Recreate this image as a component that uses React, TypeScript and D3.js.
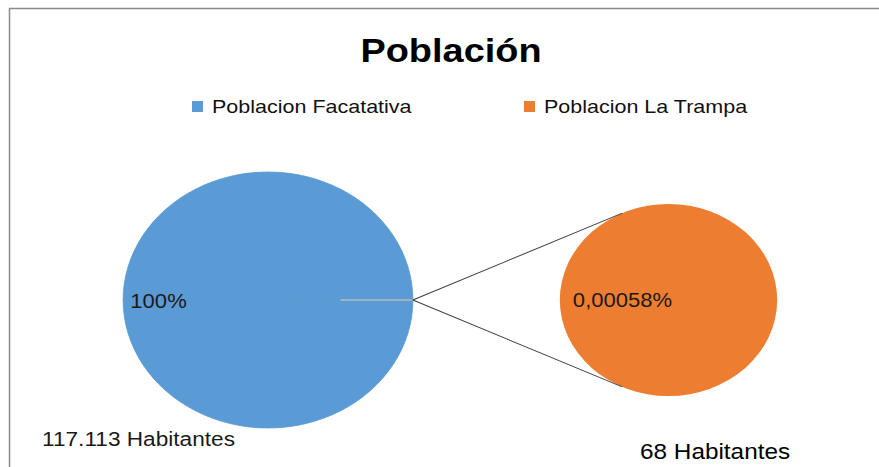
import React from 'react';
import * as d3 from 'd3';

// datos del gráfico
const categories = ['Poblacion Facatativa', 'Poblacion La Trampa'];
const values = [117113, 68];
const pctLabels = ['100%', '0,00058%'];
const countLabels = ['117.113 Habitantes', '68 Habitantes'];
const colors = ['#5B9BD5', '#ED7D31'];

const width = 879;
const height = 467;
// el original está estirado en horizontal
const sx = 1.132;
const font = '"Liberation Sans", Arial, sans-serif';

const App: React.FC = () => {
  const total = d3.sum(values);
  const half = (Math.PI * values[1]) / total;

  // pastel principal, la porción pequeña centrada a las 3 en punto
  const bigPie = d3.pie<number>()
    .sort(null)
    .startAngle(Math.PI / 2 + half)
    .endAngle(Math.PI / 2 + half + 2 * Math.PI)(values);

  const big = { cx: 268 / sx, cy: 300, r: 128 };
  const small = { cx: 668.5 / sx, cy: 300, r: 96 };

  const bigArc = d3.arc<d3.PieArcDatum<number>>().innerRadius(0).outerRadius(big.r);
  const smallPie = d3.pie<number>().sort(null)([values[1]]);
  const smallArc = d3.arc<d3.PieArcDatum<number>>().innerRadius(0).outerRadius(small.r);

  // punto de salida de los conectores (borde del pastel grande)
  const px = big.cx + big.r;
  const py = big.cy;
  // tangentes al pastel secundario
  const d = small.cx - px;
  const theta = Math.acos(small.r / d);
  const tangents = [-theta, theta].map(t => ({
    x: small.cx - small.r * Math.cos(t),
    y: small.cy + small.r * Math.sin(t),
  }));

  const legendX = [192, 524];

  return (
    <div style={{ position: 'fixed', left: 0, top: 0 }}>
      <svg width={width} height={height} viewBox={`0 0 ${width} ${height}`} style={{ display: 'block', background: '#fff' }}>
        <line x1={9} x2={width} y1={8.5} y2={8.5} stroke="#8a8a8a" strokeWidth={1.5} />
        <line x1={9.5} x2={9.5} y1={8} y2={height} stroke="#8a8a8a" strokeWidth={1.5} />

        <g transform={`scale(${sx},1)`}>
          <text x={451 / sx} y={62} textAnchor="middle" fontFamily={font} fontWeight="bold" fontSize={33.5} fill="#000">
            Población
          </text>

          {categories.map((c, i) => (
            <g key={c}>
              <rect x={legendX[i] / sx} y={101} width={11 / sx} height={11} fill={colors[i]} />
              <text x={(legendX[i] + 20) / sx} y={113} fontFamily={font} fontSize={19} fill="#111">
                {c}
              </text>
            </g>
          ))}

          <g transform={`translate(${big.cx},${big.cy})`}>
            {bigPie.map((s, i) => (
              <path key={i} d={bigArc(s) || ''} fill={colors[0]} stroke={colors[0]} strokeWidth={0.8} />
            ))}
            <line
              x1={big.r * 0.5 * Math.sin(Math.PI / 2)}
              x2={big.r * Math.sin(Math.PI / 2)}
              y1={0}
              y2={0}
              stroke="#b8b8b8"
              strokeWidth={1.5}
            />
          </g>

          <g transform={`translate(${small.cx},${small.cy})`}>
            {smallPie.map((s, i) => (
              <path key={i} d={smallArc(s) || ''} fill={colors[1]} />
            ))}
          </g>

          {tangents.map((t, i) => (
            <line key={i} x1={px} y1={py} x2={t.x} y2={t.y} stroke="#404040" strokeWidth={1} />
          ))}

          <text x={big.cx - big.r * 0.95} y={308} fontFamily={font} fontSize={19.5} fill="#1a1a1a">
            {pctLabels[0]}
          </text>
          <text x={small.cx - small.r * 0.88} y={307} fontFamily={font} fontSize={19.5} fill="#1a1a1a">
            {pctLabels[1]}
          </text>

          <text x={42 / sx} y={446} fontFamily={font} fontSize={20} fill="#1a1a1a">
            {countLabels[0]}
          </text>
          <text x={640 / sx} y={459} fontFamily={font} fontSize={21.5} fill="#000">
            {countLabels[1]}
          </text>
        </g>
      </svg>
    </div>
  );
};

export default App;
